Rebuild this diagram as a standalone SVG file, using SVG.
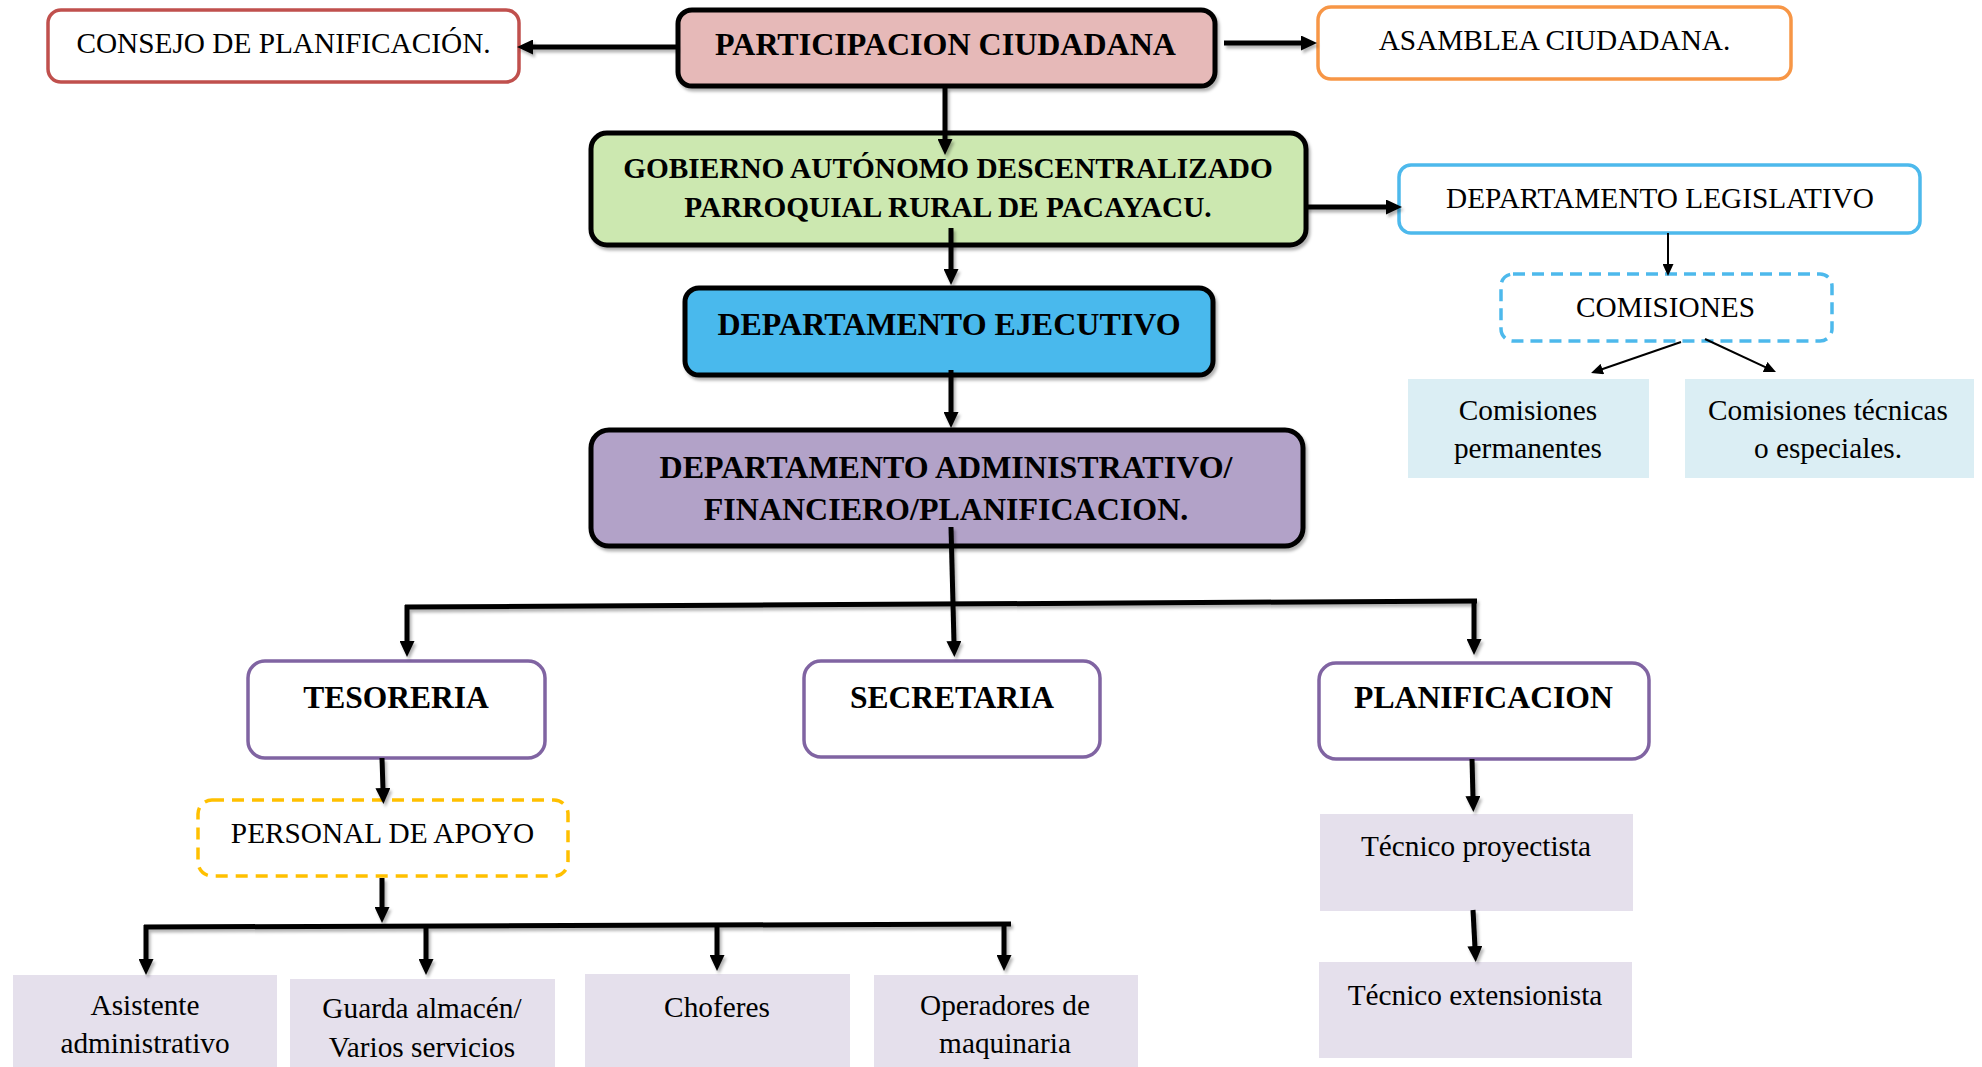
<svg xmlns="http://www.w3.org/2000/svg" width="1982" height="1067" viewBox="0 0 1982 1067">
<defs>
<style>
text{font-family:"Liberation Serif","Times New Roman",serif;fill:#000;text-anchor:middle}
.r{font-size:29.3px}
.b{font-weight:bold}
.main{stroke:#000;stroke-width:5}
.col{fill:#fff;stroke-width:3.5}
.tile{stroke:none}
.c{fill:none;stroke:#000;stroke-width:5}
.t{fill:none;stroke:#000;stroke-width:2}
</style>
<marker id="ah" markerUnits="userSpaceOnUse" markerWidth="17" markerHeight="15" refX="2" refY="7.5" orient="auto">
<path d="M0,0 L16,7.5 L0,15 Z" fill="#000"/>
</marker>
<marker id="ahs" markerUnits="userSpaceOnUse" markerWidth="13" markerHeight="11" refX="2" refY="5.5" orient="auto">
<path d="M0,0 L12,5.5 L0,11 Z" fill="#000"/>
</marker>
<filter id="sh" x="-10%" y="-10%" width="130%" height="140%">
<feDropShadow dx="2" dy="3" stdDeviation="1.8" flood-color="#000" flood-opacity="0.3"/>
</filter>
</defs>

<g id="consejo">
<rect x="48" y="10" width="471" height="72" rx="13" class="col" stroke="#c0504d"/>
<text x="283.5" y="53" class="r">CONSEJO DE PLANIFICACIÓN.</text>
</g>

<g id="participacion">
<rect x="678" y="10" width="537" height="76" rx="14" class="main" fill="#e6b9b8" filter="url(#sh)"/>
<text x="945.5" y="55" class="b" font-size="32">PARTICIPACION CIUDADANA</text>
</g>

<g id="asamblea">
<rect x="1318" y="7" width="473" height="72" rx="13" class="col" stroke="#f79646"/>
<text x="1554.5" y="50" class="r">ASAMBLEA CIUDADANA.</text>
</g>

<g id="gobierno">
<rect x="591" y="133" width="715" height="112" rx="16" class="main" fill="#cce8b0" filter="url(#sh)"/>
<text x="948" y="178" class="b" font-size="29.3">GOBIERNO AUTÓNOMO DESCENTRALIZADO</text>
<text x="948" y="217" class="b" font-size="29.3">PARROQUIAL RURAL DE PACAYACU.</text>
</g>

<g id="legislativo">
<rect x="1399" y="165" width="521" height="68" rx="12" class="col" stroke="#4db9ec"/>
<text x="1660" y="208" class="r">DEPARTAMENTO LEGISLATIVO</text>
</g>

<g id="comisiones">
<rect x="1501" y="274" width="331" height="67" rx="12" class="col" stroke="#4db9ec" stroke-dasharray="12 7"/>
<text x="1665.5" y="317" class="r">COMISIONES</text>
</g>

<g id="com-permanentes">
<rect x="1408" y="379" width="241" height="99" class="tile" fill="#dbeef4"/>
<text x="1528" y="420" class="r">Comisiones</text>
<text x="1528" y="458" class="r">permanentes</text>
</g>

<g id="com-tecnicas">
<rect x="1685" y="379" width="289" height="99" class="tile" fill="#dbeef4"/>
<text x="1828" y="420" class="r">Comisiones técnicas</text>
<text x="1828" y="458" class="r">o especiales.</text>
</g>

<g id="ejecutivo">
<rect x="685" y="288" width="528" height="87" rx="14" class="main" fill="#49b9ed" filter="url(#sh)"/>
<text x="949" y="335" class="b" font-size="32">DEPARTAMENTO EJECUTIVO</text>
</g>

<g id="administrativo">
<rect x="591" y="430" width="712" height="116" rx="18" class="main" fill="#b2a2c8" filter="url(#sh)"/>
<text x="946" y="478" class="b" font-size="32">DEPARTAMENTO ADMINISTRATIVO/</text>
<text x="946" y="520" class="b" font-size="32">FINANCIERO/PLANIFICACION.</text>
</g>

<g id="tesoreria">
<rect x="248" y="661" width="297" height="97" rx="17" class="col" stroke="#8064a2"/>
<text x="396" y="708" class="b" font-size="31.5">TESORERIA</text>
</g>

<g id="secretaria">
<rect x="804" y="661" width="296" height="96" rx="17" class="col" stroke="#8064a2"/>
<text x="952" y="708" class="b" font-size="31.5">SECRETARIA</text>
</g>

<g id="planificacion">
<rect x="1319" y="663" width="330" height="96" rx="17" class="col" stroke="#8064a2"/>
<text x="1483.5" y="708" class="b" font-size="31.7">PLANIFICACION</text>
</g>

<g id="personal">
<rect x="198" y="800" width="370" height="76" rx="14" class="col" stroke="#ffc000" stroke-dasharray="12 8"/>
<text x="382.5" y="843" class="r">PERSONAL DE APOYO</text>
</g>

<g id="asistente">
<rect x="13" y="975" width="264" height="92" class="tile" fill="#e5e0ec"/>
<text x="145" y="1015" class="r">Asistente</text>
<text x="145" y="1053" class="r">administrativo</text>
</g>

<g id="guarda">
<rect x="290" y="979" width="265" height="88" class="tile" fill="#e5e0ec"/>
<text x="422" y="1018" class="r">Guarda almacén/</text>
<text x="422" y="1057" class="r">Varios servicios</text>
</g>

<g id="choferes">
<rect x="585" y="974" width="265" height="93" class="tile" fill="#e5e0ec"/>
<text x="717" y="1017" class="r">Choferes</text>
</g>

<g id="operadores">
<rect x="874" y="975" width="264" height="92" class="tile" fill="#e5e0ec"/>
<text x="1005" y="1015" class="r">Operadores de</text>
<text x="1005" y="1053" class="r">maquinaria</text>
</g>

<g id="tec-proyectista">
<rect x="1320" y="814" width="313" height="97" class="tile" fill="#e5e0ec"/>
<text x="1476" y="856" class="r">Técnico proyectista</text>
</g>

<g id="tec-extensionista">
<rect x="1319" y="962" width="313" height="96" class="tile" fill="#e5e0ec"/>
<text x="1475" y="1005" class="r">Técnico extensionista</text>
</g>

<g id="connectors">
<g filter="url(#sh)">
<line x1="677" y1="47" x2="531" y2="47" class="c" marker-end="url(#ah)"/>
<line x1="1224" y1="43" x2="1303" y2="43" class="c" marker-end="url(#ah)"/>
<line x1="945" y1="87" x2="945" y2="141" class="c" marker-end="url(#ah)"/>
<line x1="1306" y1="207" x2="1388" y2="207" class="c" marker-end="url(#ah)"/>
<line x1="951" y1="228" x2="951" y2="271" class="c" marker-end="url(#ah)"/>
<line x1="951" y1="370" x2="951" y2="414" class="c" marker-end="url(#ah)"/>
<line x1="951" y1="527" x2="954" y2="643" class="c" marker-end="url(#ah)"/>
<line x1="405" y1="607" x2="1477" y2="601" class="c"/>
<line x1="407" y1="605" x2="407" y2="643" class="c" marker-end="url(#ah)"/>
<line x1="1474" y1="599" x2="1474" y2="641" class="c" marker-end="url(#ah)"/>
<line x1="382" y1="758" x2="383" y2="790" class="c" marker-end="url(#ah)"/>
<line x1="382" y1="878" x2="382" y2="909" class="c" marker-end="url(#ah)"/>
<line x1="144" y1="927" x2="1011" y2="924" class="c"/>
<line x1="146" y1="925" x2="146" y2="961" class="c" marker-end="url(#ah)"/>
<line x1="426" y1="924" x2="426" y2="961" class="c" marker-end="url(#ah)"/>
<line x1="717" y1="923" x2="717" y2="957" class="c" marker-end="url(#ah)"/>
<line x1="1004" y1="922" x2="1004" y2="957" class="c" marker-end="url(#ah)"/>
<line x1="1472" y1="759" x2="1473" y2="798" class="c" marker-end="url(#ah)"/>
<line x1="1473" y1="910" x2="1475" y2="948" class="c" marker-end="url(#ah)"/>
</g>
<line x1="1668" y1="233" x2="1668" y2="266" class="t" marker-end="url(#ahs)"/>
<line x1="1681" y1="342" x2="1600.5" y2="369.7" class="t" marker-end="url(#ahs)"/>
<line x1="1705" y1="339" x2="1766.9" y2="367.8" class="t" marker-end="url(#ahs)"/>
</g>
</svg>
